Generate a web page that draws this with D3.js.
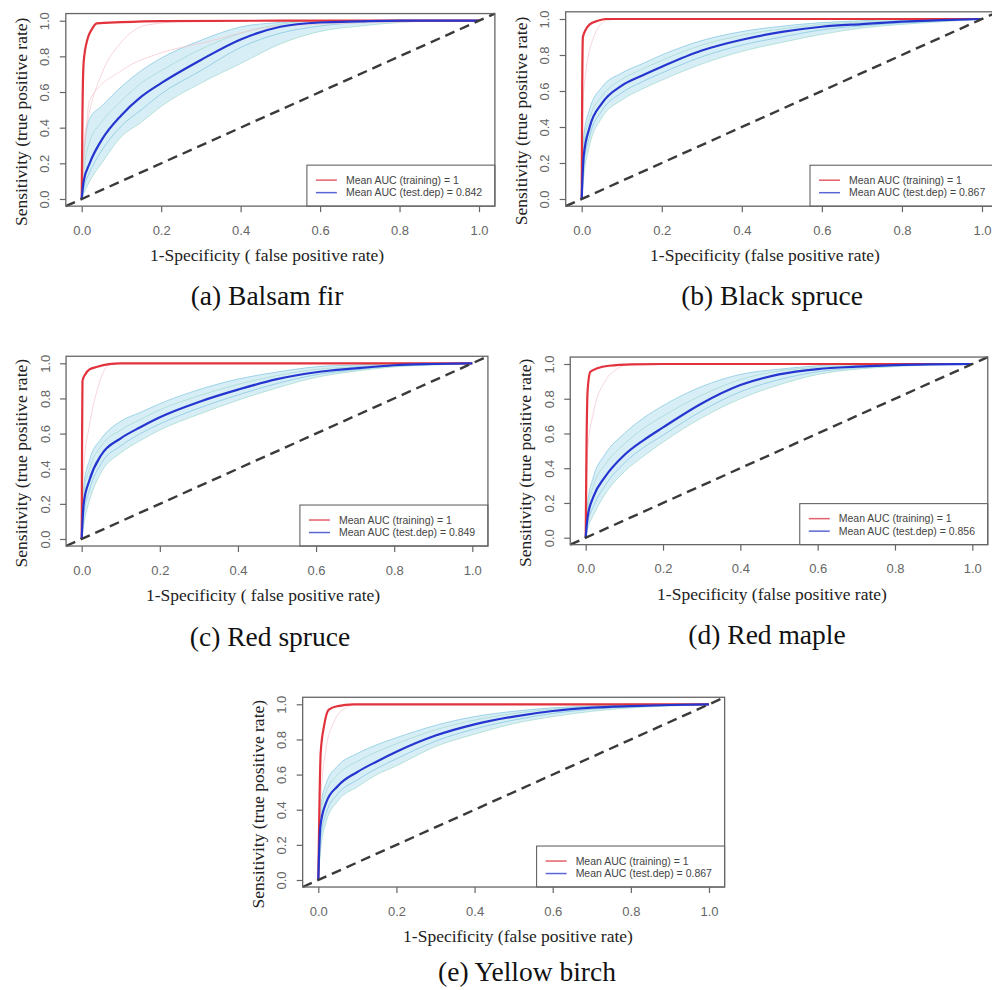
<!DOCTYPE html>
<html>
<head>
<meta charset="utf-8">
<script src="https://cdn.jsdelivr.net/npm/d3@7"></script>
<style>
  body { margin: 0; background: #fff; }
  svg { display: block; }
</style>
</head>
<body>
<div id="chart"></div>
<script>
// false positive rate grid shared by the test-run curves
var fpr = [0, 0.005, 0.02, 0.05, 0.1, 0.15, 0.2, 0.3, 0.4, 0.5, 0.6, 0.7, 0.8, 0.9, 1.0];

var captions = ["(a) Balsam fir", "(b) Black spruce", "(c) Red spruce", "(d) Red maple", "(e) Yellow birch"];
var testAuc = ["0.842", "0.867", "0.849", "0.856", "0.867"];
var trainAuc = ["1", "1", "1", "1", "1"];
var xTitles = ["1-Specificity ( false positive rate)", "1-Specificity (false positive rate)",
    "1-Specificity ( false positive rate)", "1-Specificity (false positive rate)",
    "1-Specificity (false positive rate)"];
var tickValues = [0, 0.2, 0.4, 0.6, 0.8, 1.0];

// mean test ROC (tpr at each fpr)
var balsamTestMean = [0, 0.1, 0.2, 0.33, 0.47, 0.574, 0.65, 0.78, 0.895, 0.966, 0.99, 0.996, 1, 1, 1];
var blackTestMean = [0, 0.24, 0.4, 0.53, 0.63, 0.685, 0.735, 0.825, 0.885, 0.928, 0.957, 0.972, 0.985, 0.994, 1];
var redSpruceTestMean = [0, 0.2, 0.336, 0.478, 0.573, 0.636, 0.693, 0.78, 0.85, 0.91, 0.949, 0.971, 0.989, 0.996, 1];
var mapleTestMean = [0, 0.12, 0.236, 0.35, 0.476, 0.562, 0.635, 0.773, 0.879, 0.94, 0.971, 0.985, 0.994, 0.998, 1];
var birchTestMean = [0, 0.3, 0.44, 0.535, 0.615, 0.675, 0.73, 0.822, 0.886, 0.93, 0.962, 0.981, 0.99, 0.996, 1];

// individual test runs (upper, upper-mid, lower-mid, lower)
var balsamTestRuns = [
    [0, 0.25, 0.45, 0.52, 0.63, 0.72, 0.79, 0.89, 0.965, 0.99, 1, 1, 1, 1, 1],
    [0, 0.15, 0.32, 0.43, 0.55, 0.65, 0.72, 0.84, 0.93, 0.98, 1, 1, 1, 1, 1],
    [0, 0.06, 0.15, 0.27, 0.41, 0.5, 0.59, 0.72, 0.85, 0.93, 0.97, 0.99, 1, 1, 1],
    [0, 0.03, 0.1, 0.2, 0.35, 0.43, 0.52, 0.65, 0.76, 0.87, 0.94, 0.97, 0.99, 1, 1]
];
var blackTestRuns = [
    [0, 0.35, 0.5, 0.62, 0.7, 0.75, 0.8, 0.88, 0.93, 0.96, 0.98, 0.99, 1, 1, 1],
    [0, 0.3, 0.45, 0.57, 0.665, 0.72, 0.77, 0.855, 0.91, 0.945, 0.97, 0.982, 0.992, 0.998, 1],
    [0, 0.18, 0.35, 0.49, 0.59, 0.65, 0.7, 0.79, 0.855, 0.9, 0.94, 0.962, 0.978, 0.99, 1],
    [0, 0.12, 0.3, 0.45, 0.55, 0.61, 0.66, 0.75, 0.82, 0.87, 0.915, 0.95, 0.97, 0.985, 1]
];
var redSpruceTestRuns = [
    [0, 0.3, 0.45, 0.57, 0.67, 0.72, 0.77, 0.85, 0.91, 0.95, 0.98, 0.99, 1, 1, 1],
    [0, 0.25, 0.4, 0.53, 0.62, 0.68, 0.735, 0.815, 0.88, 0.93, 0.965, 0.98, 0.995, 1, 1],
    [0, 0.13, 0.28, 0.43, 0.53, 0.6, 0.655, 0.745, 0.82, 0.885, 0.935, 0.963, 0.985, 0.995, 1],
    [0, 0.08, 0.22, 0.38, 0.49, 0.56, 0.62, 0.71, 0.79, 0.86, 0.92, 0.955, 0.98, 0.99, 1]
];
var mapleTestRuns = [
    [0, 0.2, 0.35, 0.48, 0.6, 0.69, 0.76, 0.87, 0.94, 0.97, 0.99, 1, 1, 1, 1],
    [0, 0.16, 0.3, 0.42, 0.54, 0.63, 0.7, 0.82, 0.91, 0.96, 0.98, 0.992, 0.998, 1, 1],
    [0, 0.08, 0.18, 0.3, 0.43, 0.52, 0.59, 0.73, 0.84, 0.91, 0.955, 0.978, 0.99, 0.997, 1],
    [0, 0.05, 0.13, 0.25, 0.38, 0.47, 0.55, 0.69, 0.8, 0.88, 0.94, 0.97, 0.985, 0.995, 1]
];
var birchTestRuns = [
    [0, 0.4, 0.55, 0.65, 0.72, 0.77, 0.81, 0.88, 0.93, 0.96, 0.98, 0.99, 1, 1, 1],
    [0, 0.35, 0.5, 0.6, 0.675, 0.73, 0.775, 0.855, 0.91, 0.948, 0.972, 0.986, 0.995, 1, 1],
    [0, 0.22, 0.38, 0.49, 0.57, 0.635, 0.69, 0.79, 0.86, 0.91, 0.948, 0.972, 0.986, 0.995, 1],
    [0, 0.15, 0.33, 0.45, 0.53, 0.6, 0.65, 0.76, 0.83, 0.89, 0.93, 0.96, 0.98, 0.99, 1]
];

// mean training ROC as [fpr, tpr]
var balsamTrainMean = [[0, 0], [0.002, 0.5], [0.005, 0.77], [0.015, 0.9], [0.025, 0.95], [0.038, 0.985], [0.1, 0.992], [0.2, 0.998], [0.5, 1], [1, 1]];
var blackTrainMean = [[0, 0], [0.001, 0.5], [0.003, 0.9], [0.01, 0.94], [0.02, 0.97], [0.04, 0.99], [0.06, 1], [1, 1]];
var redSpruceTrainMean = [[0, 0], [0.001, 0.6], [0.002, 0.9], [0.01, 0.94], [0.02, 0.965], [0.04, 0.98], [0.07, 0.995], [0.1, 1], [1, 1]];
var mapleTrainMean = [[0, 0], [0.002, 0.5], [0.005, 0.85], [0.012, 0.955], [0.03, 0.975], [0.06, 0.99], [0.12, 0.998], [0.2, 1], [1, 1]];
var birchTrainMean = [[0, 0], [0.002, 0.3], [0.006, 0.72], [0.015, 0.88], [0.027, 0.97], [0.05, 0.99], [0.09, 1], [1, 1]];

// faint individual training runs
var balsamTrainRuns = [
    [[0, 0], [0.005, 0.3], [0.017, 0.46], [0.05, 0.7], [0.1, 0.88], [0.164, 0.976], [0.3, 1], [1, 1]],
    [[0, 0], [0.01, 0.35], [0.02, 0.555], [0.1, 0.72], [0.2, 0.82], [0.3, 0.873], [0.5, 0.97], [1, 1]]
];
var blackTrainRuns = [[[0, 0], [0.005, 0.6], [0.03, 0.9], [0.06, 0.99], [0.1, 1], [1, 1]]];
var redSpruceTrainRuns = [[[0, 0], [0.005, 0.4], [0.02, 0.65], [0.04, 0.85], [0.07, 0.99], [0.1, 1], [1, 1]]];
var mapleTrainRuns = [[[0, 0], [0.005, 0.5], [0.02, 0.72], [0.05, 0.9], [0.08, 0.97], [0.12, 1], [1, 1]]];
var birchTrainRuns = [[[0, 0], [0.005, 0.4], [0.02, 0.75], [0.04, 0.9], [0.07, 0.98], [0.1, 1], [1, 1]]];

var testMeans = [balsamTestMean, blackTestMean, redSpruceTestMean, mapleTestMean, birchTestMean];
var testRuns = [balsamTestRuns, blackTestRuns, redSpruceTestRuns, mapleTestRuns, birchTestRuns];
var trainMeans = [balsamTrainMean, blackTrainMean, redSpruceTrainMean, mapleTrainMean, birchTrainMean];
var trainRuns = [balsamTrainRuns, blackTrainRuns, redSpruceTrainRuns, mapleTrainRuns, birchTrainRuns];

(function () {
    var width = 992,
        height = 990;

    // pixel frame of each panel: where 0 and 1 land on each axis
    var layout = [
        { x0: 81.7, x1: 479, y0: 199, y1: 20.7, titleX: 267, capX: 267, capDy: 89 },
        { x0: 581.7, x1: 982, y0: 199, y1: 19, titleX: 765, capX: 772, capDy: 89 },
        { x0: 81.7, x1: 472.3, y0: 539, y1: 363.3, titleX: 263, capX: 270, capDy: 90 },
        { x0: 585.7, x1: 972.3, y0: 537.7, y1: 364, titleX: 772, capX: 767, capDy: 90 },
        { x0: 318.3, x1: 709, y0: 880, y1: 704.3, titleX: 518, capX: 527, capDy: 84 }
    ];

    var svg = d3.select("#chart")
        .append("svg")
        .attr("width", width)
        .attr("height", height);

    var sans = "'Liberation Sans', Arial, sans-serif",
        serif = "'Liberation Serif', 'Times New Roman', serif";

    function drawPanel(i) {
        var L = layout[i];
        var x = d3.scaleLinear().domain([0, 1]).range([L.x0, L.x1]);
        var y = d3.scaleLinear().domain([0, 1]).range([L.y0, L.y1]);
        var left = x(-0.04), right = x(1.04), top = y(1.04), bottom = y(-0.04);

        var g = svg.append("g").attr("class", "panel");

        var line = d3.line()
            .x(function (d) { return x(d[0]); })
            .y(function (d) { return y(d[1]); })
            .curve(d3.curveMonotoneX);

        function pairs(vals) {
            return vals.map(function (v, k) { return [fpr[k], v]; });
        }

        // shaded spread of the test runs
        var runs = testRuns[i];
        var band = d3.area()
            .x(function (d, k) { return x(fpr[k]); })
            .y0(function (d, k) { return y(runs[runs.length - 1][k]); })
            .y1(function (d) { return y(d); })
            .curve(d3.curveMonotoneX);
        g.append("path")
            .attr("d", band(runs[0]))
            .attr("fill", "#a8d9ea")
            .attr("opacity", 0.45);

        runs.forEach(function (r, k) {
            g.append("path")
                .attr("d", line(pairs(r)))
                .attr("fill", "none")
                .attr("stroke", k % 2 ? "#9fd8cc" : "#7cc4de")
                .attr("stroke-width", 1)
                .attr("opacity", 0.7);
        });

        trainRuns[i].forEach(function (r) {
            g.append("path")
                .attr("d", line(r))
                .attr("fill", "none")
                .attr("stroke", "#f2c4cc")
                .attr("stroke-width", 1)
                .attr("opacity", 0.7);
        });

        g.append("path")
            .attr("d", line(trainMeans[i]))
            .attr("fill", "none")
            .attr("stroke", "#e2323c")
            .attr("stroke-width", 2.2);

        g.append("path")
            .attr("d", line(pairs(testMeans[i])))
            .attr("fill", "none")
            .attr("stroke", "#2436cf")
            .attr("stroke-width", 2.2);

        // chance line across the whole frame
        g.append("line")
            .attr("x1", x(-0.04)).attr("y1", y(-0.04))
            .attr("x2", x(1.04)).attr("y2", y(1.04))
            .attr("stroke", "#3a3a3a")
            .attr("stroke-width", 2.4)
            .attr("stroke-dasharray", "10,6");

        // legend, bottom right
        var lx = right - 188, ly = bottom - 41;
        g.append("rect")
            .attr("x", lx).attr("y", ly)
            .attr("width", right - lx).attr("height", bottom - ly)
            .attr("fill", "#fff")
            .attr("stroke", "#555")
            .attr("stroke-width", 1);
        var items = [
            { label: "Mean AUC (training) = " + trainAuc[i], color: "#e4606a" },
            { label: "Mean AUC (test.dep) = " + testAuc[i], color: "#5a68d4" }
        ];
        items.forEach(function (d, k) {
            var yy = ly + 15 + k * 12.5;
            g.append("line")
                .attr("x1", lx + 9).attr("x2", lx + 30)
                .attr("y1", yy).attr("y2", yy)
                .attr("stroke", d.color)
                .attr("stroke-width", 1.5);
            g.append("text")
                .attr("x", lx + 39).attr("y", yy)
                .attr("dy", "0.35em")
                .style("font-family", sans)
                .style("font-size", "10.5px")
                .attr("fill", "#444")
                .text(d.label);
        });

        // frame
        g.append("rect")
            .attr("x", left).attr("y", top)
            .attr("width", right - left).attr("height", bottom - top)
            .attr("fill", "none")
            .attr("stroke", "#666")
            .attr("stroke-width", 1.3);

        // axes
        var xAxis = d3.axisBottom(x).tickValues(tickValues).tickFormat(d3.format(".1f"))
            .tickSize(6);
        var xg = g.append("g").attr("transform", "translate(0," + bottom + ")").call(xAxis);
        xg.select(".domain").remove();
        xg.selectAll("line").attr("stroke", "#666").attr("stroke-width", 1.2);
        xg.selectAll("text")
            .attr("y", 24).attr("dy", "0.35em")
            .style("font-family", sans).style("font-size", "13px").attr("fill", "#666");

        var yAxis = d3.axisLeft(y).tickValues(tickValues).tickFormat(d3.format(".1f"))
            .tickSize(6);
        var yg = g.append("g").attr("transform", "translate(" + left + ",0)").call(yAxis);
        yg.select(".domain").remove();
        yg.selectAll("line").attr("stroke", "#666").attr("stroke-width", 1.2);
        yg.selectAll("text")
            .attr("x", null).attr("dy", "0.35em")
            .attr("text-anchor", "middle")
            .attr("transform", "translate(-21,0) rotate(-90)")
            .attr("y", 0)
            .style("font-family", sans).style("font-size", "13px").attr("fill", "#666");

        // titles
        g.append("text")
            .attr("x", L.titleX).attr("y", bottom + 49)
            .attr("dy", "0.35em")
            .attr("text-anchor", "middle")
            .style("font-family", serif).style("font-size", "17.5px")
            .attr("fill", "#222")
            .text(xTitles[i]);

        var cy = (top + bottom) / 2 + 12;
        g.append("text")
            .attr("transform", "translate(" + (left - 45) + "," + cy + ") rotate(-90)")
            .attr("dy", "0.35em")
            .attr("text-anchor", "middle")
            .style("font-family", serif).style("font-size", "17.5px")
            .attr("fill", "#222")
            .text("Sensitivity (true positive rate)");

        g.append("text")
            .attr("x", L.capX).attr("y", bottom + L.capDy)
            .attr("dy", "0.35em")
            .attr("text-anchor", "middle")
            .style("font-family", serif).style("font-size", "27.5px")
            .attr("fill", "#111")
            .text(captions[i]);
    }

    for (var i = 0; i < layout.length; i++) drawPanel(i);
})();
</script>
</body>
</html>
